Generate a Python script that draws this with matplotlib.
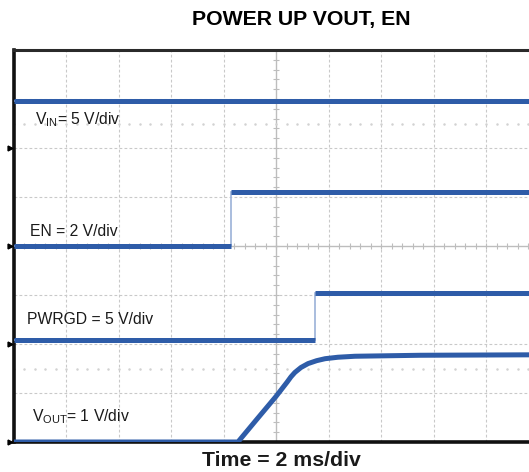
import numpy as np
import matplotlib
matplotlib.use("Agg")
import matplotlib.pyplot as plt

plt.rcParams['font.family'] = ['Liberation Sans', 'DejaVu Sans']
plt.rcParams['mathtext.fontset'] = 'custom'
plt.rcParams['mathtext.rm'] = 'Liberation Sans'

# Scope channel settings: (ground position in divisions, volts per division)
vin_offset, vin_scale = 6, 5.0
en_offset, en_scale = 4, 2.0
pg_offset, pg_scale = 2, 5.0
vout_offset, vout_scale = 0, 1.0

# Captured waveforms (time in ms, level in V)
vin_time = [0.0, 20.0]
vin_volts = [4.8, 4.8]

en_time = [0.0, 8.29, 8.29, 20.0]
en_volts = [0.0, 0.0, 2.2, 2.2]

pg_time = [0.0, 11.49, 11.49, 20.0]
pg_volts = [0.4, 0.4, 5.2, 5.2]

vout_time = [0.0, 8.55, 9.28, 10.0, 10.42, 10.57, 10.72, 10.95, 11.22, 11.55,
             11.87, 12.36, 13.01, 15.5, 20.0]
vout_volts = [0.0, 0.0, 0.47, 0.93, 1.22, 1.33, 1.42, 1.52, 1.60, 1.66,
              1.70, 1.73, 1.75, 1.77, 1.78]

labels = [r'V$_{\mathregular{IN}}$= 5 V/div', 'EN = 2 V/div', 'PWRGD = 5 V/div',
          r'V$_{\mathregular{OUT}}$= 1 V/div']

W, H = 529, 472
fig = plt.figure(figsize=(W / 100, H / 100), dpi=100)
left, right, top, bottom = 13.5, 538.5, 50, 442
ax = fig.add_axes([left / W, 1 - bottom / H, (right - left) / W, (bottom - top) / H])
ax.set_xlim(0, 20)
ax.set_ylim(0, 8)
ax.set_xticks([])
ax.set_yticks([])

grid_c = '#c9c9c9'
for x in np.arange(2, 20, 2):
    if x != 10:
        ax.axvline(x, color=grid_c, lw=0.8, ls=(0, (2.5, 2)), zorder=1)
for y in range(1, 8):
    if y != 4:
        ax.axhline(y, color=grid_c, lw=0.8, ls=(0, (2.5, 2)), zorder=1)

# center crosshair with minor ticks
ax.axvline(10, color='#bdbdbd', lw=1.0, zorder=1)
ax.axhline(4, color='#bdbdbd', lw=1.0, zorder=1)
minor_x = np.arange(0, 20.01, 0.4)
minor_y = np.arange(0, 8.01, 0.2)
ax.plot(minor_x, np.full_like(minor_x, 4), ls='none', marker='|', ms=4.5, mew=0.8,
        color='#bdbdbd', zorder=1)
ax.plot(np.full_like(minor_y, 10), minor_y, ls='none', marker='_', ms=4.5, mew=0.8,
        color='#bdbdbd', zorder=1)
for y in (1.5, 6.5):
    ax.plot(minor_x, np.full_like(minor_x, y), ls='none', marker='o', ms=0.8,
            color='#d2d2d2', zorder=1)

blue = '#2E5CA8'
light = '#9bb1d8'

def to_div(volts, offset, scale):
    return offset + np.asarray(volts) / scale

def draw_trace(t, v, offset, scale):
    t = np.asarray(t)
    y = to_div(v, offset, scale)
    # thin, faint edges where the signal switches
    ax.plot(t, y, color=light, lw=1.2, zorder=3, solid_joinstyle='miter')
    # thick levels
    steps = np.where(np.diff(t) == 0)[0]
    start = 0
    for s in list(steps) + [len(t) - 1]:
        ax.plot(t[start:s + 1], y[start:s + 1], color=blue, lw=3.6, zorder=4,
                solid_capstyle='butt')
        start = s + 1

draw_trace(vin_time, vin_volts, vin_offset, vin_scale)
draw_trace(en_time, en_volts, en_offset, en_scale)
draw_trace(pg_time, pg_volts, pg_offset, pg_scale)
ax.plot(vout_time, to_div(vout_volts, vout_offset, vout_scale), color=blue, lw=3.6,
        zorder=4, solid_joinstyle='round')

# ground reference markers on the left edge
for g in (vin_offset, en_offset, pg_offset, vout_offset):
    ax.plot([-0.12], [g], marker='>', ms=3.5, color='black', clip_on=False, zorder=6)

label_pos = [(35, 120), (30, 232), (27, 319), (32, 417)]
for (px, py), txt in zip(label_pos, labels):
    fig.text(px / W, 1 - py / H, txt, fontsize=11.3, va='center', ha='left', color='#1a1a1a')

for side in ('left', 'bottom'):
    ax.spines[side].set_linewidth(2.6)
    ax.spines[side].set_color('#111111')
ax.spines['top'].set_linewidth(2.2)
ax.spines['top'].set_color('#2a2a2a')
ax.spines['right'].set_visible(False)

fig.text(301 / W, 1 - 20 / H, 'POWER UP VOUT, EN', fontsize=15.3, fontweight='bold',
         ha='center', va='center')
fig.text(281 / W, 1 - 461 / H, 'Time = 2 ms/div', fontsize=15.3, fontweight='bold',
         ha='center', va='center', color='#1a1a1a')

fig.savefig('out.png', dpi=100)
